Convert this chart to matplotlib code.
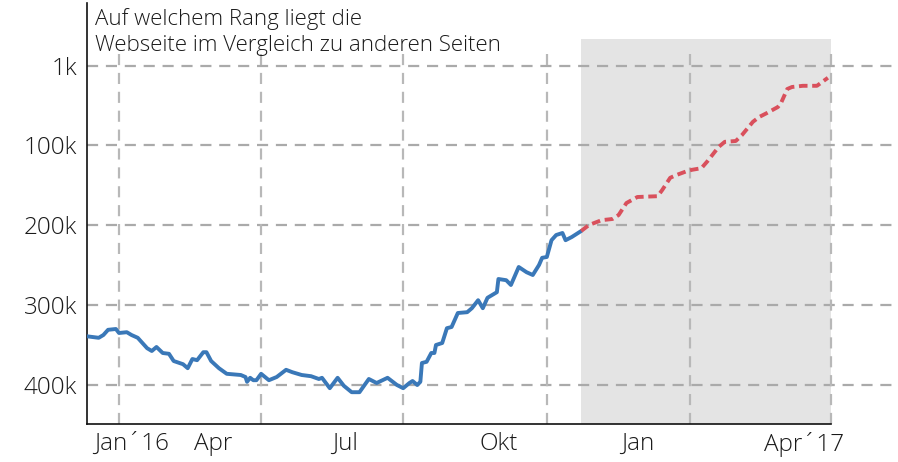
import numpy as np
import pandas as pd
import matplotlib
matplotlib.use('Agg')
import matplotlib.pyplot as plt
import matplotlib.dates as mdates
import matplotlib.transforms as mtransforms

plt.rcParams['font.family'] = ['Open Sans', 'DejaVu Sans']

# Rang der Webseite (in Tausend), gemessen
hist_dates = ['2015-12-11', '2015-12-19', '2015-12-22', '2015-12-25', '2015-12-30',
              '2016-01-01', '2016-01-06', '2016-01-09', '2016-01-13', '2016-01-16',
              '2016-01-19', '2016-01-22', '2016-01-25', '2016-01-29', '2016-02-02',
              '2016-02-05', '2016-02-11', '2016-02-14', '2016-02-17', '2016-02-20',
              '2016-02-24', '2016-02-26', '2016-02-29', '2016-03-05', '2016-03-10',
              '2016-03-19', '2016-03-22', '2016-03-23', '2016-03-25', '2016-03-27',
              '2016-03-29', '2016-04-01', '2016-04-06', '2016-04-11', '2016-04-17',
              '2016-04-21', '2016-04-27', '2016-05-03', '2016-05-08', '2016-05-10',
              '2016-05-15', '2016-05-20', '2016-05-24', '2016-05-29', '2016-06-03',
              '2016-06-09', '2016-06-14', '2016-06-21', '2016-06-27', '2016-07-01',
              '2016-07-05', '2016-07-07', '2016-07-10', '2016-07-12', '2016-07-13',
              '2016-07-16', '2016-07-19', '2016-07-21', '2016-07-22', '2016-07-26',
              '2016-07-29', '2016-08-01', '2016-08-05', '2016-08-11', '2016-08-14',
              '2016-08-18', '2016-08-21', '2016-08-24', '2016-08-30', '2016-08-31',
              '2016-09-05', '2016-09-08', '2016-09-13', '2016-09-18', '2016-09-22',
              '2016-09-26', '2016-09-28', '2016-10-01', '2016-10-04', '2016-10-07',
              '2016-10-11', '2016-10-13', '2016-10-17', '2016-10-23']
hist_rank = [339, 341, 337.5, 331, 330,
             335, 334, 337.5, 341, 347.5,
             354, 357.5, 352.5, 360, 361,
             370, 374, 379, 367.5, 369,
             359, 359, 370, 379, 386,
             387.5, 390, 396, 391, 394,
             394, 386, 394, 390, 381,
             384, 387.5, 389, 392.5, 391,
             404, 391, 401, 409, 409,
             392.5, 397.5, 391, 400, 404,
             397.5, 395, 400, 396, 372.5,
             371, 360, 360, 350, 347.5,
             329, 327.5, 310, 309, 304,
             294, 304, 291, 284, 267.5,
             269, 275, 252.5, 259, 262.5,
             250, 241, 240, 219, 212.5,
             210, 219, 215, 207.5]

# Prognose
fc_dates = ['2016-10-23', '2016-10-28', '2016-11-05', '2016-11-12', '2016-11-16',
            '2016-11-21', '2016-11-28', '2016-12-11', '2016-12-14', '2016-12-19',
            '2016-12-23', '2016-12-30', '2017-01-02', '2017-01-08', '2017-01-12',
            '2017-01-19', '2017-01-23', '2017-01-30', '2017-02-03', '2017-02-10',
            '2017-02-14', '2017-02-19', '2017-02-26', '2017-02-28', '2017-03-04',
            '2017-03-07', '2017-03-14', '2017-03-23', '2017-03-30']
fc_rank = [207.5, 200, 194, 192.5, 187.5,
           172.5, 165, 164, 156, 141,
           137.5, 132.5, 131, 129, 120,
           102.5, 96, 95, 87.5, 71,
           65, 60, 52.5, 47.5, 30,
           27.5, 26, 26, 16]

y_ticks = [1, 100, 200, 300, 400]
y_labels = ['1k', '100k', '200k', '300k', '400k']
grid_dates = ['2016-01-01', '2016-04-01', '2016-07-01', '2016-10-01', '2017-01-01', '2017-04-01']
label_dates = ['2016-01-09', '2016-03-01', '2016-05-25', '2016-08-31', '2016-11-28', '2017-03-15']
x_labels = ['Jan\u00b416', 'Apr', 'Jul', 'Okt', 'Jan', 'Apr\u00b417']
forecast_start = '2016-10-23'

hd = pd.to_datetime(hist_dates)
fd = pd.to_datetime(fc_dates)
gd = pd.to_datetime(grid_dates)
ld = pd.to_datetime(label_dates)

grid_col = '#aaaaaa'
text_col = '#1a1a1a'

fig = plt.figure(figsize=(8.98, 4.62), dpi=100)
ax = fig.add_axes([87 / 898, 38 / 462, (831 - 87) / 898, (424 - 3) / 462])

x0 = pd.Timestamp('2015-12-11 12:00')
x1 = pd.Timestamp('2017-04-01')
y_bottom, y_top = 448.75, -77.5
ax.set_xlim(x0, x1)
ax.set_ylim(y_bottom, y_top)

# Prognosebereich
ax.fill_between([pd.Timestamp(forecast_start), x1], y_bottom, -32.5,
                color='#e4e4e4', lw=0, zorder=0)

# Gitter
trans = mtransforms.blended_transform_factory(ax.transAxes, ax.transData)
for t in y_ticks:
    ax.plot([0, 1.09], [t, t], transform=trans, clip_on=False, color=grid_col,
            lw=1.6, ls=(0, (5, 3.5)), zorder=1)
ax.vlines(gd, y_bottom, -18.75, color='#b8b8b8', lw=1.6, ls=(0, (5, 3.5)), zorder=1,
          clip_on=False)

ax.plot(hd, hist_rank, color='#3a78b8', lw=2.8, zorder=3, solid_capstyle='round')
ax.plot(fd, fc_rank, color='#d9505c', lw=2.8, ls=(0, (2.2, 1.2)), zorder=3)

ax.set_yticks(y_ticks)
ax.set_yticklabels(y_labels)
ax.set_xticks(ld)
ax.set_xticklabels(x_labels)
ax.tick_params(axis='both', length=0, labelsize=17.5, labelcolor=text_col)
ax.tick_params(axis='y', pad=7)
ax.tick_params(axis='x', pad=6)
for lab in ax.get_xticklabels() + ax.get_yticklabels():
    lab.set_fontweight('light')

for s in ['top', 'right']:
    ax.spines[s].set_visible(False)
for s in ['left', 'bottom']:
    ax.spines[s].set_color('#111111')
    ax.spines[s].set_linewidth(1.2)

fig.text(95 / 898, 1 - 25 / 462, 'Auf welchem Rang liegt die', fontsize=16,
         color=text_col, va='baseline', fontweight='light')
fig.text(95 / 898, 1 - 51 / 462, 'Webseite im Vergleich zu anderen Seiten', fontsize=16,
         color=text_col, va='baseline', fontweight='light')

fig.savefig('out.png', dpi=100)
